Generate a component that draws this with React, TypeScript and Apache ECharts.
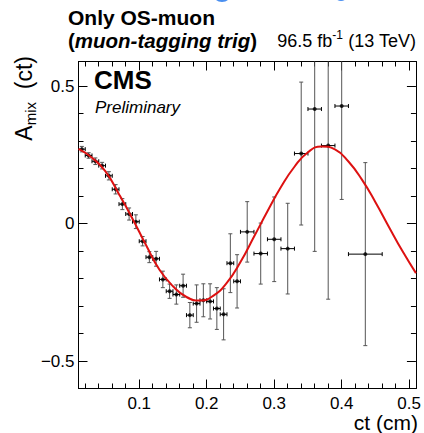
import React, { useEffect, useRef } from "react";
import * as echarts from "echarts";

// ---- data ----
const ctValues = [
  0.015, 0.025, 0.035, 0.045, 0.055, 0.065, 0.075, 0.085, 0.095, 0.105,
  0.115, 0.125, 0.135, 0.145, 0.155, 0.165, 0.175, 0.185, 0.195, 0.205,
  0.215, 0.225, 0.235, 0.245, 0.26, 0.28, 0.3, 0.32, 0.34, 0.36, 0.38, 0.4, 0.435,
];
const amixValues = [
  0.271, 0.248, 0.227, 0.211, 0.174, 0.125, 0.071, 0.035, 0.007, -0.064,
  -0.122, -0.128, -0.203, -0.246, -0.258, -0.226, -0.333, -0.291, -0.279, -0.283,
  -0.309, -0.33, -0.144, -0.21, -0.03, -0.109, -0.057, -0.091, 0.255, 0.417, 0.284, 0.428, -0.111,
];
const ctErrors = [
  0.005, 0.005, 0.005, 0.005, 0.005, 0.005, 0.005, 0.005, 0.005, 0.005,
  0.005, 0.005, 0.005, 0.005, 0.005, 0.005, 0.005, 0.005, 0.005, 0.005,
  0.005, 0.005, 0.005, 0.005, 0.01, 0.01, 0.01, 0.01, 0.01, 0.01, 0.01, 0.01, 0.025,
];
const amixErrors = [
  0.01, 0.01, 0.012, 0.012, 0.015, 0.017, 0.02, 0.022, 0.025, 0.017,
  0.02, 0.027, 0.03, 0.026, 0.035, 0.042, 0.046, 0.068, 0.06, 0.064,
  0.076, 0.093, 0.107, 0.097, 0.11, 0.111, 0.154, 0.165, 0.26, 0.518, 0.559, 0.34, 0.333,
];
const fitCt = [
  0.01, 0.03, 0.05, 0.07, 0.09, 0.11, 0.13, 0.15, 0.17, 0.19, 0.21, 0.23, 0.25,
  0.27, 0.29, 0.31, 0.33, 0.35, 0.37, 0.39, 0.41, 0.43, 0.45, 0.47, 0.49, 0.51,
];
const fitAmix = [
  0.272, 0.24, 0.19, 0.107, 0.018, -0.078, -0.168, -0.228, -0.267, -0.28, -0.262, -0.215, -0.14,
  -0.048, 0.045, 0.133, 0.207, 0.26, 0.281, 0.27, 0.226, 0.16, 0.078, -0.012, -0.1, -0.18,
];
const xRange = [0.01, 0.51];
const yRange = [-0.6, 0.59];

const FONT = '"Liberation Sans", Arial, Helvetica, sans-serif';

export default function App() {
  const ref = useRef<HTMLDivElement>(null);
  useEffect(() => {
    if (!ref.current) return;
    const chart = echarts.init(ref.current, undefined, { renderer: "svg" });

    const points = ctValues.map((c, i) => [c, amixValues[i], ctErrors[i], amixErrors[i]]);
    const fit = fitCt.map((c, i) => [c, fitAmix[i]]);

    const baseX = (position: "top" | "bottom", labels: boolean) => ({
      type: "value",
      position,
      min: xRange[0],
      max: xRange[1],
      splitNumber: 5,
      axisLine: { show: true, onZero: false, lineStyle: { color: "#000", width: 1 } },
      axisTick: { show: true, inside: true, length: 9, lineStyle: { color: "#000", width: 1 } },
      minorTick: { show: true, splitNumber: 5, length: 5, lineStyle: { color: "#000", width: 1 } },
      splitLine: { show: false },
      minorSplitLine: { show: false },
      axisLabel: {
        show: labels,
        showMinLabel: false,
        showMaxLabel: false,
        fontSize: 17,
        color: "#000",
        fontFamily: FONT,
        margin: 6,
      },
    });
    const baseY = (position: "left" | "right", labels: boolean) => ({
      type: "value",
      position,
      min: yRange[0],
      max: yRange[1],
      splitNumber: 2,
      axisLine: { show: true, onZero: false, lineStyle: { color: "#000", width: 1 } },
      axisTick: { show: true, inside: true, length: 9, lineStyle: { color: "#000", width: 1 } },
      minorTick: { show: true, splitNumber: 5, length: 5, lineStyle: { color: "#000", width: 1 } },
      splitLine: { show: false },
      minorSplitLine: { show: false },
      axisLabel: {
        show: labels,
        showMinLabel: false,
        showMaxLabel: false,
        fontSize: 17,
        color: "#000",
        fontFamily: FONT,
        margin: 4,
        formatter: (v: number) => (v === 0 ? "0" : String(v).replace("-", "\u2212")),
      },
    });

    chart.setOption({
      animation: false,
      backgroundColor: "#fff",
      grid: { left: 78.5, top: 61.5, width: 340, height: 327, containLabel: false },
      xAxis: [baseX("bottom", true), baseX("top", false)],
      yAxis: [baseY("left", true), baseY("right", false)],
      series: [
        {
          type: "custom",
          xAxisIndex: 0,
          yAxisIndex: 0,
          clip: true,
          data: points,
          renderItem: (params: any, api: any) => {
            const x = api.value(0);
            const y = api.value(1);
            const xe = api.value(2);
            const ye = api.value(3);
            const top = api.coord([x, y + ye]);
            const bot = api.coord([x, y - ye]);
            const l = api.coord([x - xe, y]);
            const r = api.coord([x + xe, y]);
            const cap = 2;
            const vStyle = { stroke: "#555", lineWidth: 1 };
            const hStyle = { stroke: "#000", lineWidth: 1 };
            return {
              type: "group",
              children: [
                { type: "line", shape: { x1: top[0], y1: top[1], x2: bot[0], y2: bot[1] }, style: vStyle },
                { type: "line", shape: { x1: top[0] - cap, y1: top[1], x2: top[0] + cap, y2: top[1] }, style: vStyle },
                { type: "line", shape: { x1: bot[0] - cap, y1: bot[1], x2: bot[0] + cap, y2: bot[1] }, style: vStyle },
                { type: "line", shape: { x1: l[0], y1: l[1], x2: r[0], y2: r[1] }, style: hStyle },
                { type: "line", shape: { x1: l[0], y1: l[1] - cap, x2: l[0], y2: l[1] + cap }, style: hStyle },
                { type: "line", shape: { x1: r[0], y1: r[1] - cap, x2: r[0], y2: r[1] + cap }, style: hStyle },
              ],
            };
          },
          z: 2,
        },
        {
          type: "scatter",
          xAxisIndex: 0,
          yAxisIndex: 0,
          data: points.map((p) => [p[0], p[1]]),
          symbol: "circle",
          symbolSize: 4,
          itemStyle: { color: "#000" },
          z: 3,
        },
        {
          type: "line",
          xAxisIndex: 0,
          yAxisIndex: 0,
          data: fit,
          smooth: true,
          showSymbol: false,
          symbol: "none",
          lineStyle: { color: "#dd1111", width: 2 },
          z: 4,
        },
      ],
      graphic: [
        { type: "ellipse", shape: { cx: 222, cy: -4, rx: 8, ry: 6 }, style: { fill: "#4a8ff0" } },
        { type: "ellipse", shape: { cx: 341, cy: -4, rx: 6, ry: 5 }, style: { fill: "#4a8ff0" } },
        {
          type: "text",
          x: 68,
          y: 17,
          style: {
            text: "Only OS-muon",
            fontFamily: FONT,
            fontWeight: "bold",
            fontSize: 21,
            fill: "#000",
            align: "left",
            verticalAlign: "middle",
          },
        },
        {
          type: "text",
          x: 68,
          y: 40.5,
          style: {
            text: "{p|(}{bi|muon-tagging trig}{p|)}",
            fontFamily: FONT,
            fontWeight: "bold",
            fontSize: 20.5,
            fill: "#000",
            align: "left",
            verticalAlign: "middle",
            rich: {
              p: { fontFamily: FONT, fontWeight: "bold", fontSize: 20.5, fill: "#000" },
              bi: { fontFamily: FONT, fontWeight: "bold", fontStyle: "italic", fontSize: 20.5, fill: "#000" },
            },
          },
        },
        {
          type: "text",
          x: 416,
          y: 41.3,
          style: {
            text: "{n|96.5 fb}{s|-1}{n| (13 TeV)}",
            fontFamily: FONT,
            fontSize: 18,
            fill: "#000",
            align: "right",
            verticalAlign: "middle",
            rich: {
              n: { fontFamily: FONT, fontSize: 18, lineHeight: 18, fill: "#000", verticalAlign: "middle" },
              s: {
                fontFamily: FONT,
                fontSize: 12,
                lineHeight: 12,
                fill: "#000",
                verticalAlign: "middle",
                padding: [0, 0, 13, 0],
              },
            },
          },
        },
        {
          type: "text",
          x: 94,
          y: 80,
          style: {
            text: "CMS",
            fontFamily: FONT,
            fontWeight: "bold",
            fontSize: 26,
            fill: "#000",
            align: "left",
            verticalAlign: "middle",
          },
        },
        {
          type: "text",
          x: 95,
          y: 107.5,
          style: {
            text: "Preliminary",
            fontFamily: FONT,
            fontStyle: "italic",
            fontSize: 17,
            fill: "#000",
            align: "left",
            verticalAlign: "middle",
          },
        },
        {
          type: "text",
          x: 24,
          y: 56,
          rotation: Math.PI / 2,
          style: {
            text: "{m|A}{sub|mix}{m|  (ct)}",
            fontFamily: FONT,
            fontSize: 23,
            fill: "#000",
            align: "right",
            verticalAlign: "middle",
            rich: {
              m: { fontFamily: FONT, fontSize: 23, lineHeight: 28, fill: "#000", verticalAlign: "middle" },
              sub: { fontFamily: FONT, fontSize: 15, lineHeight: 15, fill: "#000", verticalAlign: "bottom" },
            },
          },
        },
        {
          type: "text",
          x: 418,
          y: 422,
          style: {
            text: "ct (cm)",
            fontFamily: FONT,
            fontSize: 21,
            fill: "#000",
            align: "right",
            verticalAlign: "middle",
          },
        },
      ],
    });
    return () => chart.dispose();
  }, []);

  return (
    <div
      ref={ref}
      style={{ position: "fixed", left: 0, top: 0, width: 424, height: 433, background: "#fff" }}
    />
  );
}
